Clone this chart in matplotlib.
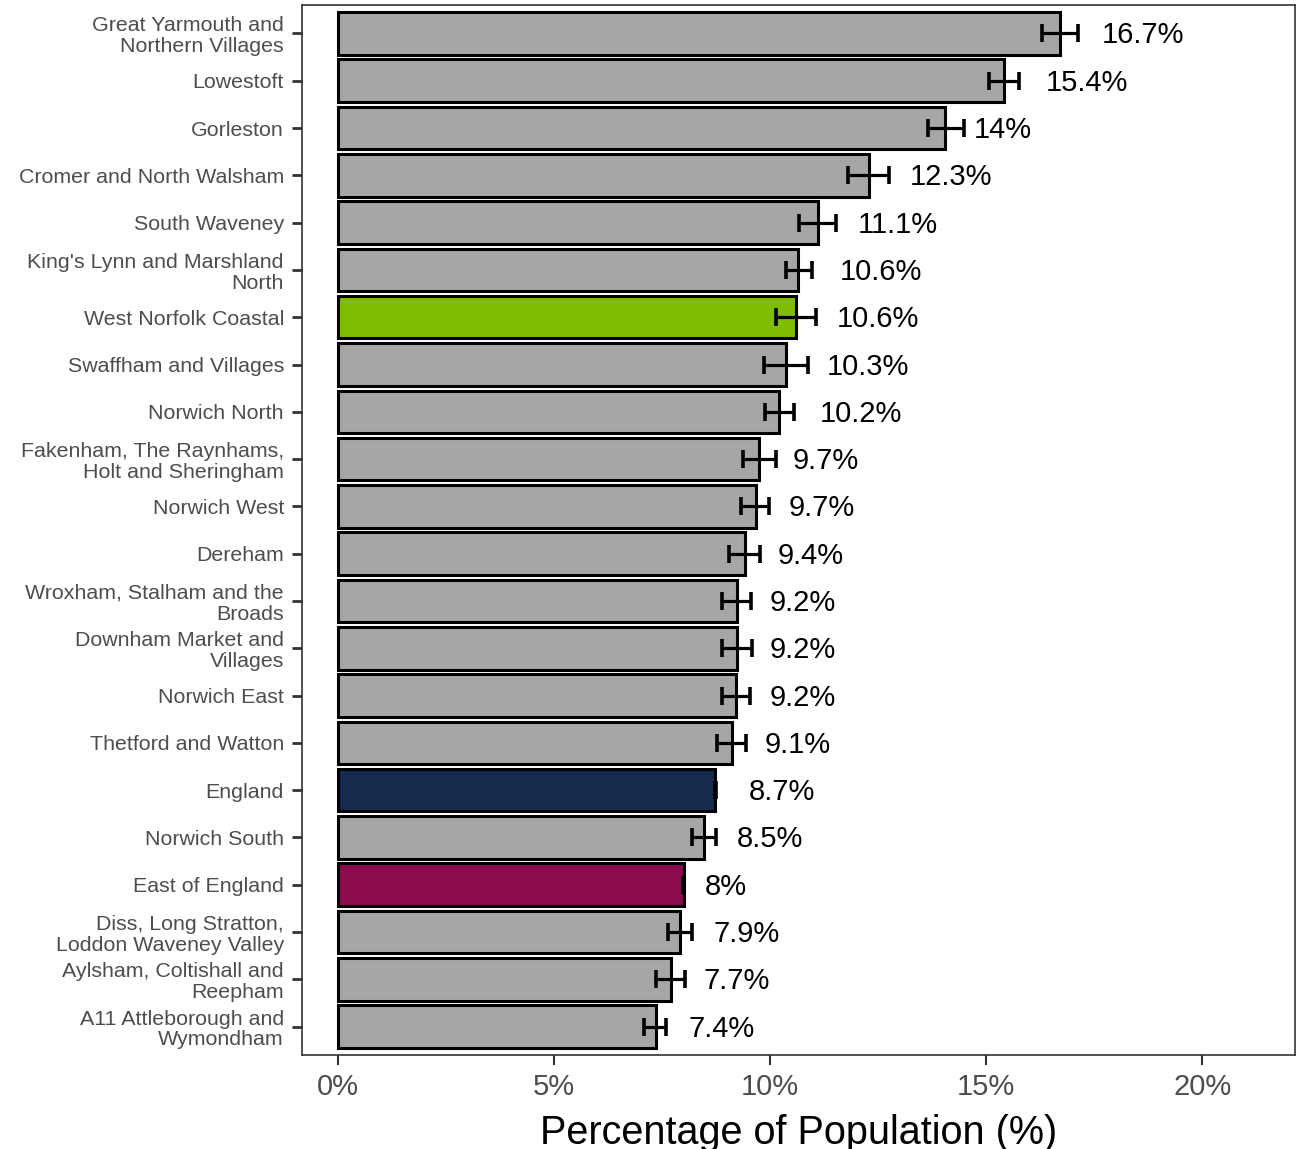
import matplotlib
matplotlib.use("Agg")
import matplotlib.pyplot as plt
from matplotlib.transforms import ScaledTranslation

plt.rcParams["font.family"] = ["Liberation Sans", "DejaVu Sans"]

# areas, top to bottom
AREAS = [
    "Great Yarmouth and\nNorthern Villages", "Lowestoft", "Gorleston",
    "Cromer and North Walsham", "South Waveney", "King's Lynn and Marshland\nNorth",
    "West Norfolk Coastal", "Swaffham and Villages", "Norwich North",
    "Fakenham, The Raynhams,\nHolt and Sheringham", "Norwich West", "Dereham",
    "Wroxham, Stalham and the\nBroads", "Downham Market and\nVillages", "Norwich East",
    "Thetford and Watton", "England", "Norwich South", "East of England",
    "Diss, Long Stratton,\nLoddon Waveney Valley", "Aylsham, Coltishall and\nReepham",
    "A11 Attleborough and\nWymondham",
]
VALUES = [16.72, 15.42, 14.05, 12.28, 11.1, 10.65, 10.6, 10.37, 10.2, 9.75, 9.67,
          9.42, 9.23, 9.23, 9.22, 9.11, 8.73, 8.47, 8.0, 7.92, 7.7, 7.35]
LOWER = [16.3, 15.07, 13.65, 11.8, 10.67, 10.37, 10.14, 9.86, 9.88, 9.37, 9.32,
         9.06, 8.9, 8.88, 8.9, 8.78, 8.72, 8.19, 7.98, 7.65, 7.35, 7.09]
UPPER = [17.13, 15.76, 14.5, 12.76, 11.53, 10.97, 11.07, 10.87, 10.55, 10.13, 9.98,
         9.77, 9.57, 9.59, 9.54, 9.44, 8.75, 8.75, 8.02, 8.2, 8.04, 7.6]
LABELS = ["16.7%", "15.4%", "14%", "12.3%", "11.1%", "10.6%", "10.6%", "10.3%",
          "10.2%", "9.7%", "9.7%", "9.4%", "9.2%", "9.2%", "9.2%", "9.1%", "8.7%",
          "8.5%", "8%", "7.9%", "7.7%", "7.4%"]
HIGHLIGHT = {"West Norfolk Coastal": "#80bc00", "England": "#162a4e",
             "East of England": "#8a0c4f"}
XTICKS = [0, 5, 10, 15, 20]

fig = plt.figure(figsize=(13.03, 11.49), dpi=100)
ax = fig.add_axes([0.2318, 0.0818, 0.7621, 0.9138])

n = len(AREAS)
ypos = list(range(n))
colors = [HIGHLIGHT.get(a, "#a6a6a6") for a in AREAS]
ax.barh(ypos, VALUES, height=0.9, color=colors, edgecolor="black",
        linewidth=2.2, zorder=2)
xerr = [[v - lo for v, lo in zip(VALUES, LOWER)],
        [hi - v for v, hi in zip(VALUES, UPPER)]]
ax.errorbar(VALUES, ypos, xerr=xerr, fmt="none", ecolor="black",
            elinewidth=2.3, capsize=6.5, capthick=2.6, zorder=3)

texts = []
for y, v, lbl in zip(ypos, VALUES, LABELS):
    texts.append(ax.text(v, y, lbl, ha="left", va="center", fontsize=21,
                         color="black", zorder=4))

ax.set_ylim(n - 1 + 0.6, -0.6)
ax.set_xlim(-0.83, 22.15)
ax.set_yticks(ypos)
ax.set_yticklabels(AREAS, fontsize=15.4, color="#4d4d4d", linespacing=1.12)
ax.set_xticks(XTICKS)
ax.set_xticklabels([f"{t}%" for t in XTICKS], fontsize=21, color="#4d4d4d")
ax.set_xlabel("Percentage of Population (%)", fontsize=28.5, labelpad=9)
ax.tick_params(axis="y", length=7, width=2, color="#333333", pad=6)
ax.tick_params(axis="x", length=7, width=1.5, color="#333333", pad=6)
for s in ax.spines.values():
    s.set_color("#333333")
    s.set_linewidth(1.2)

# ggplot-style hjust = -0.5: shift each label right by half its width
fig.canvas.draw()
for t in texts:
    w = t.get_window_extent().width
    t.set_transform(ax.transData + ScaledTranslation(w / 2 / fig.dpi, -2 / fig.dpi,
                                                     fig.dpi_scale_trans))

fig.savefig("out.png", dpi=100)
